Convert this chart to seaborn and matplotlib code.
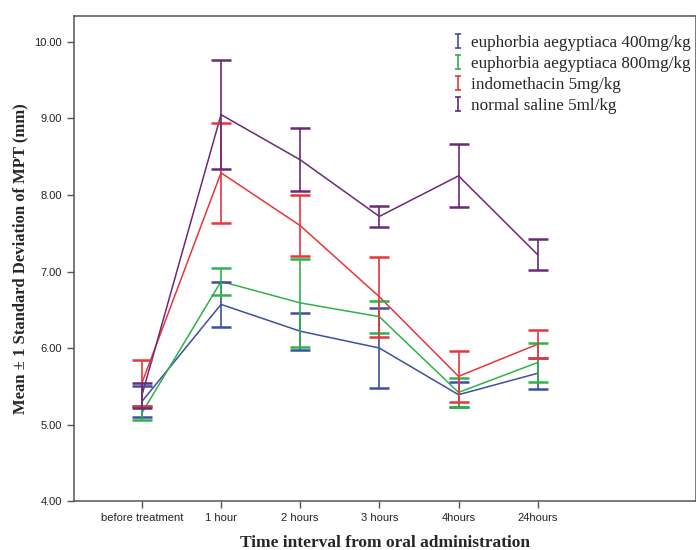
import matplotlib
matplotlib.use("Agg")
import matplotlib.pyplot as plt
from matplotlib.path import Path
from matplotlib.lines import Line2D
import seaborn as sns
import pandas as pd

times = ["before treatment", "1 hour", "2 hours", "3 hours", "4hours", "24hours"]
groups = ["euphorbia aegyptiaca 400mg/kg", "euphorbia aegyptiaca 800mg/kg",
          "indomethacin 5mg/kg", "normal saline 5ml/kg"]

# mean and SD
mean_400 = [5.30, 6.57, 6.22, 6.00, 5.39, 5.67]
sd_400 = [0.20, 0.29, 0.24, 0.52, 0.16, 0.20]
mean_800 = [5.15, 6.87, 6.59, 6.41, 5.42, 5.81]
sd_800 = [0.09, 0.18, 0.58, 0.21, 0.19, 0.26]
mean_indo = [5.54, 8.29, 7.60, 6.67, 5.63, 6.05]
sd_indo = [0.30, 0.65, 0.40, 0.52, 0.33, 0.18]
mean_saline = [5.38, 9.05, 8.46, 7.72, 8.25, 7.22]
sd_saline = [0.16, 0.71, 0.41, 0.14, 0.41, 0.20]

colors = ["#3e4fa3", "#2eb24a", "#e8353c", "#6a2a78"]

means = [mean_400, mean_800, mean_indo, mean_saline]
sds = [sd_400, sd_800, sd_indo, sd_saline]

rows = []
for g, m, s in zip(groups, means, sds):
    for i, t in enumerate(times):
        rows.append({"group": g, "time": t, "x": i, "mean": m[i], "sd": s[i]})
df = pd.DataFrame(rows)

sns.set_style("ticks")
fig = plt.figure(figsize=(6.96, 5.5), dpi=100)
ax = fig.add_axes([0.106, 0.089, 0.894, 0.882])

sns.lineplot(data=df, x="x", y="mean", hue="group", palette=colors,
             hue_order=groups, legend=False, linewidth=1.1, ax=ax)
for g, c in zip(groups, colors):
    d = df[df["group"] == g]
    ax.errorbar(d["x"], d["mean"], yerr=d["sd"], fmt="none", ecolor=c,
                elinewidth=1.2, capsize=7, capthick=1.8)

ax.set_xlim(-0.86, 7.0)
ax.set_ylim(4.0, 10.34)
ax.set_xticks(range(len(times)))
ax.set_xticklabels(times, fontsize=8, family="Liberation Sans", color="#222222")
ax.set_yticks([4, 5, 6, 7, 8, 9, 10])
ax.set_yticklabels(["%.2f" % v for v in [4, 5, 6, 7, 8, 9, 10]],
                   fontsize=8, family="Liberation Sans", color="#222222")
ax.tick_params(direction="out", length=5, width=1, color="#555555")
for sp in ax.spines.values():
    sp.set_color("#555555")
    sp.set_linewidth(1.1)

ax.set_xlabel("Time interval from oral administration", fontsize=12.5,
              family="Liberation Serif", fontweight="bold", labelpad=9)
ax.set_ylabel("Mean \u00b1 1 Standard Deviation of MPT (mm)", fontsize=12,
              family="Liberation Serif", fontweight="bold", labelpad=4)

ibar = Path([(-0.4, 1), (0.4, 1), (0, 1), (0, -1), (-0.4, -1), (0.4, -1)],
            [Path.MOVETO, Path.LINETO, Path.MOVETO, Path.LINETO, Path.MOVETO, Path.LINETO])
handles = [Line2D([], [], color=c, marker=ibar, markersize=10, markeredgewidth=1.2,
                  linestyle="none") for c in colors]
ax.legend(handles, groups, loc="upper left", bbox_to_anchor=(0.598, 0.975),
          frameon=False, prop={"family": "Liberation Serif", "size": 12.3},
          handlelength=0.6, handletextpad=0.5, labelspacing=0.3, borderaxespad=0)

fig.savefig("out.png", dpi=100)
